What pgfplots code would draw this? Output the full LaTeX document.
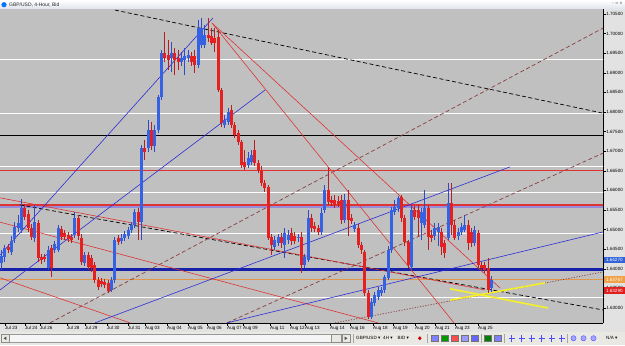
\documentclass[border=0pt]{standalone}
\usepackage{pgfplots}
\pgfplotsset{compat=1.18}
\usepackage{pgfplotstable}
\usetikzlibrary{backgrounds,calc}
\usepackage{fontspec}
\setmainfont{Liberation Sans}
\newfontfamily\sym{DejaVu Sans}
\definecolor{chartbg}{RGB}{192,192,192}
\definecolor{scalebg}{RGB}{226,226,226}
\definecolor{toolbg}{RGB}{234,232,226}
\definecolor{titlebot}{RGB}{222,226,234}
\definecolor{upbody}{RGB}{52,98,226}
\definecolor{upwick}{RGB}{45,75,205}
\definecolor{dnbody}{RGB}{228,32,32}
\definecolor{dnwick}{RGB}{185,30,30}
\definecolor{brownd}{RGB}{140,62,62}
\definecolor{tline}{RGB}{222,52,52}
\definecolor{bline}{RGB}{45,45,215}
\definecolor{navy}{RGB}{22,32,168}
\definecolor{orangel}{RGB}{228,150,72}
\definecolor{violetl}{RGB}{150,140,220}
\definecolor{yel}{RGB}{246,240,40}
\definecolor{boxblue}{RGB}{50,100,215}
\definecolor{boxorange}{RGB}{240,160,70}
\definecolor{boxred}{RGB}{225,30,30}

\pgfplotstableread{
x o h l c
0 1.6415 1.6448 1.6397 1.6433
1 1.6430 1.6461 1.6417 1.6453
3 1.6443 1.6484 1.6435 1.6471
4 1.6476 1.6519 1.6466 1.6507
5 1.6504 1.6537 1.6494 1.6517
6 1.6499 1.6578 1.6491 1.6555
10 1.6479 1.6563 1.6468 1.6519
14 1.6402 1.6458 1.6397 1.6448
16 1.6448 1.6471 1.6440 1.6463
17 1.6448 1.6512 1.6443 1.6504
22 1.6486 1.6545 1.6479 1.6530
25 1.6415 1.6443 1.6407 1.6435
33 1.6346 1.6379 1.6341 1.6371
34 1.6371 1.6481 1.6364 1.6474
36 1.6471 1.6489 1.6463 1.6479
37 1.6479 1.6496 1.6471 1.6489
38 1.6484 1.6507 1.6476 1.6499
39 1.6499 1.6519 1.6491 1.6512
40 1.6512 1.6553 1.6504 1.6545
42 1.6519 1.6716 1.6474 1.6708
44 1.6708 1.6780 1.6698 1.6754
46 1.6713 1.6767 1.6698 1.6754
47 1.6754 1.6843 1.6746 1.6838
48 1.6838 1.6958 1.6831 1.6950
51 1.6938 1.6979 1.6902 1.6950
54 1.6927 1.6953 1.6917 1.6938
55 1.6933 1.6963 1.6894 1.6943
56 1.6938 1.6958 1.6927 1.6945
59 1.6920 1.7035 1.6912 1.7014
60 1.6971 1.7040 1.6963 1.7014
61 1.6971 1.7022 1.6963 1.6996
67 1.6767 1.6792 1.6759 1.6780
68 1.6774 1.6810 1.6767 1.6800
74 1.6665 1.6698 1.6657 1.6683
75 1.6672 1.6703 1.6665 1.6690
82 1.6456 1.6484 1.6448 1.6474
83 1.6466 1.6489 1.6458 1.6481
85 1.6461 1.6504 1.6428 1.6491
86 1.6474 1.6499 1.6463 1.6486
89 1.6479 1.6489 1.6468 1.6481
91 1.6410 1.6438 1.6402 1.6430
92 1.6422 1.6550 1.6417 1.6530
96 1.6494 1.6555 1.6486 1.6542
97 1.6550 1.6614 1.6542 1.6601
103 1.6525 1.6591 1.6517 1.6576
106 1.6502 1.6519 1.6494 1.6512
111 1.6277 1.6326 1.6272 1.6315
112 1.6313 1.6341 1.6305 1.6333
113 1.6328 1.6354 1.6320 1.6346
114 1.6338 1.6354 1.6331 1.6346
115 1.6346 1.6384 1.6338 1.6379
116 1.6377 1.6458 1.6371 1.6448
117 1.6448 1.6558 1.6440 1.6550
118 1.6545 1.6576 1.6537 1.6558
119 1.6555 1.6586 1.6545 1.6581
123 1.6405 1.6563 1.6397 1.6550
126 1.6517 1.6555 1.6474 1.6545
127 1.6512 1.6601 1.6504 1.6555
130 1.6484 1.6517 1.6474 1.6504
131 1.6494 1.6517 1.6458 1.6507
134 1.6479 1.6619 1.6474 1.6568
137 1.6484 1.6504 1.6474 1.6494
138 1.6494 1.6517 1.6486 1.6507
139 1.6499 1.6537 1.6494 1.6512
142 1.6466 1.6509 1.6458 1.6499
147 1.6351 1.6382 1.6341 1.6371
}\bull

\pgfplotstableread{
x o h l c
2 1.6456 1.6463 1.6440 1.6448
7 1.6555 1.6565 1.6525 1.6532
8 1.6540 1.6550 1.6494 1.6504
9 1.6504 1.6514 1.6474 1.6481
11 1.6517 1.6525 1.6417 1.6428
12 1.6430 1.6438 1.6412 1.6422
13 1.6430 1.6438 1.6417 1.6425
15 1.6453 1.6461 1.6379 1.6402
18 1.6502 1.6509 1.6474 1.6481
19 1.6491 1.6499 1.6474 1.6481
20 1.6486 1.6494 1.6468 1.6476
21 1.6481 1.6489 1.6466 1.6474
23 1.6530 1.6537 1.6474 1.6484
24 1.6479 1.6489 1.6410 1.6417
26 1.6435 1.6443 1.6397 1.6405
27 1.6428 1.6435 1.6392 1.6402
28 1.6410 1.6417 1.6364 1.6371
29 1.6371 1.6379 1.6346 1.6354
30 1.6369 1.6377 1.6354 1.6361
31 1.6366 1.6374 1.6351 1.6359
32 1.6364 1.6371 1.6338 1.6343
35 1.6479 1.6486 1.6461 1.6468
41 1.6545 1.6555 1.6474 1.6519
43 1.6708 1.6729 1.6678 1.6698
45 1.6754 1.6774 1.6703 1.6713
49 1.6950 1.7004 1.6927 1.6938
50 1.6945 1.6984 1.6907 1.6933
52 1.6950 1.6963 1.6894 1.6933
53 1.6938 1.6958 1.6907 1.6927
57 1.6943 1.6953 1.6917 1.6927
58 1.6943 1.6958 1.6899 1.6920
62 1.6996 1.7040 1.6979 1.6989
63 1.6994 1.7014 1.6971 1.6976
64 1.6989 1.7014 1.6953 1.6976
65 1.6991 1.7009 1.6851 1.6856
66 1.6856 1.6861 1.6762 1.6772
69 1.6805 1.6818 1.6759 1.6767
70 1.6767 1.6774 1.6734 1.6741
71 1.6746 1.6754 1.6716 1.6723
72 1.6723 1.6729 1.6657 1.6665
73 1.6672 1.6703 1.6652 1.6660
76 1.6703 1.6729 1.6662 1.6670
77 1.6670 1.6678 1.6644 1.6652
78 1.6652 1.6662 1.6611 1.6619
79 1.6619 1.6627 1.6596 1.6606
80 1.6609 1.6614 1.6474 1.6479
81 1.6481 1.6489 1.6435 1.6461
84 1.6481 1.6491 1.6453 1.6466
87 1.6491 1.6504 1.6461 1.6471
88 1.6484 1.6494 1.6463 1.6471
90 1.6481 1.6494 1.6389 1.6410
93 1.6530 1.6540 1.6494 1.6504
94 1.6509 1.6519 1.6494 1.6502
95 1.6504 1.6512 1.6486 1.6494
98 1.6601 1.6660 1.6563 1.6570
99 1.6576 1.6586 1.6560 1.6568
100 1.6576 1.6588 1.6555 1.6563
101 1.6573 1.6586 1.6558 1.6565
102 1.6576 1.6588 1.6514 1.6525
104 1.6576 1.6601 1.6484 1.6525
105 1.6530 1.6540 1.6514 1.6522
107 1.6504 1.6514 1.6453 1.6461
108 1.6461 1.6468 1.6438 1.6448
109 1.6443 1.6448 1.6331 1.6338
110 1.6338 1.6346 1.6272 1.6277
120 1.6583 1.6588 1.6519 1.6530
121 1.6530 1.6537 1.6458 1.6468
122 1.6468 1.6474 1.6402 1.6410
124 1.6550 1.6560 1.6525 1.6532
125 1.6550 1.6563 1.6484 1.6530
128 1.6555 1.6563 1.6448 1.6481
129 1.6486 1.6499 1.6468 1.6479
132 1.6494 1.6504 1.6435 1.6456
133 1.6466 1.6474 1.6428 1.6440
135 1.6568 1.6619 1.6486 1.6512
136 1.6512 1.6525 1.6474 1.6479
140 1.6512 1.6525 1.6448 1.6466
141 1.6494 1.6504 1.6456 1.6466
143 1.6491 1.6499 1.6402 1.6410
144 1.6410 1.6417 1.6397 1.6402
145 1.6410 1.6417 1.6389 1.6397
146 1.6402 1.6428 1.6338 1.6346
}\bear

\begin{document}
\begin{tikzpicture}[x=1bp,y=1bp]
\begin{axis}[
  at={(0,0)}, anchor=south west,
  width=603bp, height=313.5bp, scale only axis,
  xmin=-0.45, xmax=180.45, ymin=1.62617, ymax=1.70615,
  axis background/.style={fill=chartbg},
  axis x line*=bottom, axis y line*=right,
  axis line style={-, black, line width=0.7bp},
  ytick pos=right, yticklabel pos=right, xtick pos=left,
  tick align=outside, major tick length=2.6bp, minor tick length=1.4bp,
  tick style={black, line width=0.5bp},
  ytick={1.630,1.635,1.640,1.645,1.650,1.655,1.660,1.665,1.670,1.675,1.680,1.685,1.690,1.695,1.700,1.705},
  minor y tick num=4,
  scaled y ticks=false,
  /pgf/number format/assume math mode=true,
  yticklabel style={/pgf/number format/fixed, /pgf/number format/fixed zerofill, /pgf/number format/precision=5, font=\fontsize{4.6}{5}\selectfont, text=black, inner sep=0.5bp},
  xtick={1.05,7.05,11.55,19.65,25.05,31.65,37.95,43.05,49.65,55.95,61.65,67.65,72.45,80.55,86.55,91.05,98.55,104.55,111.45,117.45,124.05,130.05,136.05,142.95},
  xticklabels={Jul 23,Jul 24,Jul 26,Jul 28,Jul 29,Jul 30,Jul 31,Aug 03,Aug 04,Aug 05,Aug 06,Aug 07,Aug 09,Aug 11,Aug 12,Aug 13,Aug 14,Aug 16,Aug 18,Aug 19,Aug 20,Aug 21,Aug 23,Aug 25},
  xticklabel style={anchor=north west, font=\fontsize{4.6}{5}\selectfont, inner sep=0.5bp, xshift=-0.5bp},
  candle/.style={draw=none, no markers, forget plot, error bars/.cd, y dir=both, y explicit, error mark=none},
]
\coordinate (ll) at (rel axis cs:0,0);
% white horizontal levels
\addplot[white, line width=0.9bp] coordinates {(-1,1.6933) (182,1.6933)};
\addplot[white, line width=0.9bp] coordinates {(-1,1.6797) (182,1.6797)};
\addplot[white, line width=0.9bp] coordinates {(-1,1.6661) (182,1.6661)};
\addplot[white, line width=0.9bp] coordinates {(-1,1.6596) (182,1.6596)};
\addplot[white, line width=0.9bp] coordinates {(-1,1.6490) (182,1.6490)};
\addplot[white, line width=0.9bp] coordinates {(-1,1.6328) (182,1.6328)};
% coloured horizontal levels
\addplot[tline, line width=1.4bp] coordinates {(-1,1.6650) (182,1.6650)};
\addplot[violetl, line width=1.8bp] coordinates {(-1,1.6558) (182,1.6558)};
\addplot[tline, line width=1.4bp] coordinates {(-1,1.6563) (182,1.6563)};
\addplot[black, line width=1.8bp] coordinates {(-1,1.6740) (182,1.6740)};
\addplot[navy, line width=2.4bp] coordinates {(-1,1.6398) (182,1.6398)};
\addplot[orangel, line width=0.8bp] coordinates {(-1,1.6372) (182,1.6372)};
% trend lines
\addplot[black, line width=0.7bp, dash pattern=on 4bp off 2.5bp] coordinates {(34.05,1.7060) (180.45,1.6797)};
\addplot[black, line width=0.7bp, dash pattern=on 4bp off 2.5bp] coordinates {(5.55,1.6563) (180.45,1.6295)};
\addplot[brownd, line width=0.7bp, dash pattern=on 4bp off 2.5bp] coordinates {(14.55,1.6262) (180.45,1.7014)};
\addplot[brownd, line width=0.7bp, dash pattern=on 4bp off 2.5bp] coordinates {(67.65,1.6262) (180.45,1.6695)};
\addplot[brownd, line width=0.7bp, dash pattern=on 1.2bp off 1.5bp] coordinates {(100.05,1.6262) (180.45,1.6392)};
\addplot[tline, line width=0.6bp] coordinates {(-0.45,1.6581) (145.05,1.6346)};
\addplot[tline, line width=0.6bp] coordinates {(-0.45,1.6519) (112.95,1.6262)};
\addplot[tline, line width=0.6bp] coordinates {(-0.45,1.6377) (38.55,1.6262)};
\addplot[tline, line width=0.6bp] coordinates {(63.15,1.7027) (149.55,1.6351)};
\addplot[tline, line width=0.6bp] coordinates {(63.15,1.7027) (135.75,1.6262)};
\addplot[bline, line width=0.6bp] coordinates {(-0.45,1.6435) (63.45,1.7040)};
\addplot[bline, line width=0.6bp] coordinates {(-0.45,1.6346) (79.05,1.6856)};
\addplot[bline, line width=0.6bp] coordinates {(28.05,1.6262) (152.55,1.6660)};
\addplot[bline, line width=0.6bp] coordinates {(67.65,1.6262) (180.45,1.6494)};
\addplot[yel, line width=1.6bp] coordinates {(134.55,1.6320) (163.05,1.6364)};
\addplot[yel, line width=1.6bp] coordinates {(134.55,1.6349) (163.95,1.6300)};
% candles: wicks
\addplot[candle, error bar style={line width=0.7bp, draw=upwick}]
  table[x=x, y expr={(\thisrow{h}+\thisrow{l})/2}, y error expr={(\thisrow{h}-\thisrow{l})/2}] {\bull};
\addplot[candle, error bar style={line width=0.7bp, draw=dnwick}]
  table[x=x, y expr={(\thisrow{h}+\thisrow{l})/2}, y error expr={(\thisrow{h}-\thisrow{l})/2}] {\bear};
% candles: bodies
\addplot[candle, error bar style={line width=2.8bp, draw=upbody}]
  table[x=x, y expr={(\thisrow{o}+\thisrow{c})/2}, y error expr={abs(\thisrow{c}-\thisrow{o})/2}] {\bull};
\addplot[candle, error bar style={line width=2.8bp, draw=dnbody}]
  table[x=x, y expr={(\thisrow{o}+\thisrow{c})/2}, y error expr={abs(\thisrow{c}-\thisrow{o})/2}] {\bear};
\end{axis}

\begin{scope}[shift={(ll)}, yshift=-22bp]
\begin{scope}[on background layer]
\fill[white] (0,0) rectangle (625,345);
\fill[toolbg] (0,0) rectangle (625,13);
\fill[scalebg] (0,13) rectangle (625,22);
\fill[scalebg] (603,13) rectangle (625,335.5);
\shade[top color=white, bottom color=titlebot] (0,335.5) rectangle (625,345);
\end{scope}
\fill[blue!55!cyan] (4,340.3) circle (2.6);
\node[anchor=west, inner sep=0, font=\fontsize{5}{6}\selectfont, text=black!85] at (9,340.3) {GBP/USD, 4-Hour, Bid};
\node[anchor=east, inner sep=0, font=\sym\fontsize{4}{5}\selectfont, text=black!70] at (623,341.2) {– ▫ ×};
% price boxes on the scale
\node[fill=boxblue, text=white, anchor=west, inner sep=0.5bp, minimum height=6.6bp, minimum width=21.5bp, font=\fontsize{4.6}{5}\selectfont] at (603.4,85) {1.64270};
\node[fill=boxorange, text=white, anchor=west, inner sep=0.5bp, minimum height=6.6bp, minimum width=21.5bp, font=\fontsize{4.6}{5}\selectfont] at (603.4,65.5) {1.63767};
\node[fill=boxred, text=white, anchor=west, inner sep=0.5bp, minimum height=6.6bp, minimum width=21.5bp, font=\fontsize{4.6}{5}\selectfont] at (603.4,54.5) {1.63290};
% bottom toolbar
\draw[black!40, fill=white!96!black] (1,2.5) rectangle (350,11);
\draw[black!45, fill=toolbg] (1,2.5) rectangle (9,11);
\fill[black!70] (3.6,6.75) -- (6.4,8.5) -- (6.4,5) -- cycle;
\draw[black!45, fill=toolbg] (331,2.5) rectangle (341,11);
\draw[black!45, fill=toolbg] (342,2.5) rectangle (350,11);
\fill[black!70] (347.4,6.75) -- (344.6,8.5) -- (344.6,5) -- cycle;
\draw[black!35] (353,2) -- (353,11.5);
\node[anchor=west, inner sep=0, font=\fontsize{4.6}{5}\selectfont] at (356,6.75) {GBP/USD \sym▾};
\node[anchor=west, inner sep=0, font=\fontsize{4.6}{5}\selectfont] at (383,6.75) {4H \sym▾};
\node[anchor=west, inner sep=0, font=\fontsize{4.6}{5}\selectfont] at (397.5,6.75) {BID \sym▾};
\fill[red!80!black] (418,6.75) -- (419.8,8.8) -- (421.6,6.75) -- (419.8,4.7) -- cycle;
\draw[black!35] (427,2) -- (427,11.5);
\foreach \px/\col in {431/blue!50, 441/green!60!black, 451/red!70, 461/blue!40, 471/blue!60} {
  \draw[black!55, fill=\col] (\px,3.5) rectangle ++(7,6.5);
}
\draw[black!35] (481,2) -- (481,11.5);
\foreach \px/\col in {484/green!50!black, 494/blue!50} {
  \draw[black!55, fill=\col] (\px,3.5) rectangle ++(7,6.5);
}
\draw[black!35] (504,2) -- (504,11.5);
\foreach \px in {508,518,528,538,548,558} {
  \draw[blue!70, line width=0.6bp] (\px+3.5,3.5) -- (\px+3.5,10) (\px+0.5,6.75) -- (\px+6.5,6.75);
}
\draw[black!35] (567,2) -- (567,11.5);
\foreach \px in {570,580,590} {
  \draw[blue!70, fill=blue!35] (\px+3.5,6.75) circle (2.6);
}
\node[anchor=west, inner sep=0, font=\fontsize{4.6}{5}\selectfont] at (606,6.75) {N/A \sym▾};
\end{scope}
\pgfresetboundingbox
\path[use as bounding box] ($(ll)+(0,-22)$) rectangle ($(ll)+(625,323)$);
\end{tikzpicture}
\end{document}
